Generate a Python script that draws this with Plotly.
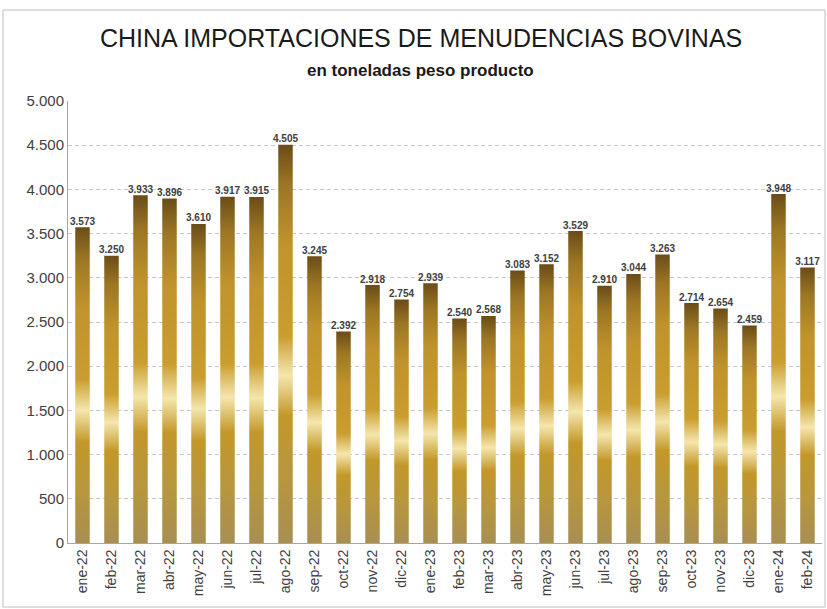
import plotly.graph_objects as go

meses = ["ene-22", "feb-22", "mar-22", "abr-22", "may-22", "jun-22", "jul-22", "ago-22",
         "sep-22", "oct-22", "nov-22", "dic-22", "ene-23", "feb-23", "mar-23", "abr-23",
         "may-23", "jun-23", "jul-23", "ago-23", "sep-23", "oct-23", "nov-23", "dic-23",
         "ene-24", "feb-24"]
toneladas = [3573, 3250, 3933, 3896, 3610, 3917, 3915, 4505, 3245, 2392, 2918, 2754, 2939,
             2540, 2568, 3083, 3152, 3529, 2910, 3044, 3263, 2714, 2654, 2459, 3948, 3117]
ticks_y = [0, 500, 1000, 1500, 2000, 2500, 3000, 3500, 4000, 4500, 5000]

FONT = "Liberation Sans, Arial, sans-serif"

# degradado dorado de cada barra (0 = base, 1 = tope)
oro = [[0.0, "#a88e52"], [0.15, "#b6963f"], [0.32, "#c3982a"], [0.42, "#f5e6ad"],
       [0.52, "#c99d2e"], [0.75, "#c0932c"], [0.9, "#9c7624"], [1.0, "#6a4c17"]]

fig = go.Figure()
ancho = 0.25
for i, v in enumerate(toneladas):
    fig.add_trace(go.Scatter(
        x=[i - ancho, i + ancho, i + ancho, i - ancho, i - ancho],
        y=[0, 0, v, v, 0],
        mode="lines", line=dict(width=0), fill="toself",
        fillgradient=dict(type="vertical", colorscale=oro),
        hoverinfo="skip", showlegend=False))

fig.add_trace(go.Scatter(
    x=list(range(len(meses))), y=toneladas, mode="text",
    text=[f"{v:,}".replace(",", ".") for v in toneladas],
    textposition="top center",
    textfont=dict(family=FONT, size=10, color="#404040", weight="bold"),
    hoverinfo="skip", showlegend=False))


def py(pix):
    # pixel vertical -> coordenada paper (area de trazado 101..543)
    return (543 - pix) / 442


def px(pix):
    return (pix - 68) / 754


fig.update_layout(
    width=827, height=609,
    margin=dict(l=68, r=5, t=101, b=66),
    paper_bgcolor="white", plot_bgcolor="white",
    separators=",.",
    font=dict(family=FONT, color="#404040"),
    annotations=[
        dict(text="CHINA IMPORTACIONES DE MENUDENCIAS BOVINAS", x=px(421), xref="paper",
             y=py(38), yref="paper", yanchor="middle", showarrow=False,
             font=dict(size=25, color="#1a1a1a", family=FONT)),
        dict(text="<b>en toneladas peso producto</b>", x=px(420), xref="paper",
             y=py(70), yref="paper", yanchor="middle", showarrow=False,
             font=dict(size=17, color="#1a1a1a", family=FONT)),
    ],
)

fig.update_xaxes(range=[-0.5, len(meses) - 0.5], tickvals=list(range(len(meses))),
                 ticktext=meses, tickangle=-90, tickfont=dict(size=14, color="#404040"),
                 showline=True, linecolor="#a6a6a6", showgrid=False, zeroline=False,
                 ticks="", fixedrange=True)
fig.update_yaxes(range=[0, 5000], tickvals=ticks_y, tickformat=",d",
                 tickfont=dict(size=15, color="#404040"),
                 showline=True, linecolor="#a6a6a6", showgrid=True,
                 gridcolor="#c8c8c8", griddash="4px,3px", zeroline=False, ticks="",
                 fixedrange=True)

fig.add_shape(type="rect", xref="paper", yref="paper",
              x0=px(3), x1=px(825), y0=py(607), y1=py(10),
              line=dict(color="#bfbfbf", width=1), layer="below")

fig.write_html("out.html", config={"displayModeBar": False},
               post_script="document.body.style.margin='0';")
